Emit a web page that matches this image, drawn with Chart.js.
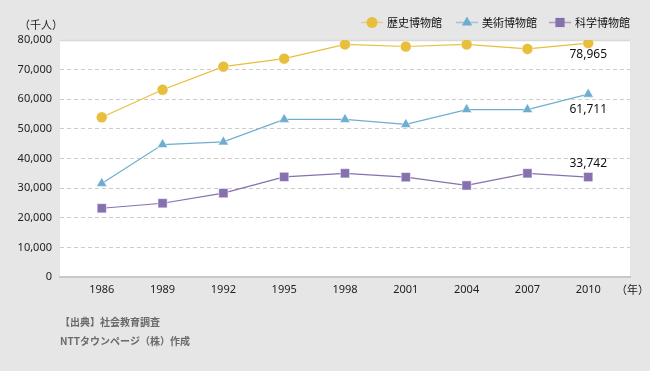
<!DOCTYPE html>
<html><head><meta charset="utf-8">
<script src="https://cdn.jsdelivr.net/npm/chart.js@4"></script>
<style>html,body{margin:0;padding:0;background:#e6e6e6;} canvas{display:block;}</style>
</head><body>
<canvas id="c" width="650" height="371"></canvas>
<script>
const years = [1986, 1989, 1992, 1995, 1998, 2001, 2004, 2007, 2010];
const historyVals = [53900, 63200, 71000, 73700, 78500, 77800, 78500, 77000, 78965];
const artVals = [31600, 44700, 45600, 53200, 53200, 51500, 56500, 56500, 61711];
const scienceVals = [23200, 24900, 28300, 33800, 35000, 33700, 30900, 35000, 33742];
const seriesNames = ['歴史博物館', '美術博物館', '科学博物館'];
const yTicks = [0, 10000, 20000, 30000, 40000, 50000, 60000, 70000, 80000];
const unitLabel = '（千人）';
const yearLabel = '（年）';
const notes = ['【出典】社会教育調査', 'NTTタウンページ（株）作成'];

const NUM_FONT = "'Noto Sans','Noto Sans CJK JP',sans-serif";
const JP_FONT = "'Noto Sans CJK JP','Noto Sans',sans-serif";
const colors = ['#E8BF3C', '#6DAED0', '#8670AE'];
const lightColors = ['rgba(232,191,60,0.6)', 'rgba(109,174,208,0.6)', 'rgba(134,112,174,0.6)'];
const styles = ['circle', 'triangle', 'rect'];
const radii = [5.5, 6, 6.5];

function pts(vals) { return years.map((y, i) => ({ x: y, y: vals[i] })); }
function fmt(v) { return Number(v).toLocaleString('en-US'); }

function drawMarker(ctx, style, x, y, r) {
  ctx.beginPath();
  if (style === 'circle') {
    ctx.arc(x, y, r, 0, Math.PI * 2);
  } else if (style === 'triangle') {
    let a = 0;
    ctx.moveTo(x + Math.sin(a) * r, y - Math.cos(a) * r);
    a += 2 * Math.PI / 3;
    ctx.lineTo(x + Math.sin(a) * r, y - Math.cos(a) * r);
    a += 2 * Math.PI / 3;
    ctx.lineTo(x + Math.sin(a) * r, y - Math.cos(a) * r);
    ctx.closePath();
  } else {
    const s = Math.SQRT1_2 * r;
    ctx.rect(x - s, y - s, 2 * s, 2 * s);
  }
  ctx.fill();
}

const bgPlugin = {
  id: 'bg',
  beforeDraw(chart) {
    const { ctx, chartArea: a } = chart;
    ctx.save();
    ctx.fillStyle = '#e6e6e6';
    ctx.fillRect(0, 0, chart.width, chart.height);
    ctx.fillStyle = '#ffffff';
    ctx.fillRect(a.left, a.top, a.right - a.left, a.bottom - a.top);
    ctx.strokeStyle = '#d8d8d8';
    ctx.lineWidth = 1.5;
    ctx.beginPath();
    ctx.moveTo(a.left, a.top + 0.5);
    ctx.lineTo(a.right, a.top + 0.5);
    ctx.stroke();
    ctx.restore();
  }
};

const textPlugin = {
  id: 'texts',
  afterDraw(chart) {
    const { ctx } = chart;
    ctx.save();
    // value labels at last points
    const offsets = [12, 15, -13];
    ctx.font = '12px ' + NUM_FONT;
    ctx.fillStyle = '#111';
    ctx.textAlign = 'center';
    ctx.textBaseline = 'middle';
    chart.data.datasets.forEach((ds, i) => {
      const meta = chart.getDatasetMeta(i);
      const p = meta.data[meta.data.length - 1];
      ctx.fillText(fmt(ds.data[ds.data.length - 1].y), p.x, p.y + offsets[i]);
    });
    // legend
    const legendX = [372, 467, 560];
    const ly = 22.5;
    ctx.font = '11px ' + JP_FONT;
    ctx.textAlign = 'left';
    seriesNames.forEach((name, i) => {
      const mx = legendX[i];
      ctx.strokeStyle = lightColors[i];
      ctx.lineWidth = 1.5;
      ctx.beginPath();
      ctx.moveTo(mx - 11, ly);
      ctx.lineTo(mx + 11, ly);
      ctx.stroke();
      ctx.fillStyle = colors[i];
      drawMarker(ctx, styles[i], mx, ly, radii[i]);
      ctx.fillStyle = '#111';
      ctx.fillText(name, mx + 15, ly);
    });
    // axis units
    ctx.fillStyle = '#222';
    ctx.font = '11px ' + JP_FONT;
    ctx.textAlign = 'left';
    ctx.fillText(unitLabel, 19, 25);
    ctx.fillText(yearLabel, 616, 290);
    // notes
    ctx.fillStyle = '#6a6a6a';
    ctx.font = 'bold 10px ' + JP_FONT;
    ctx.fillText(notes[0], 60, 322);
    ctx.fillText(notes[1], 60, 341);
    ctx.restore();
  }
};

new Chart(document.getElementById('c'), {
  type: 'line',
  data: {
    datasets: [historyVals, artVals, scienceVals].map((vals, i) => ({
      label: seriesNames[i],
      data: pts(vals),
      borderColor: colors[i],
      backgroundColor: colors[i],
      borderWidth: 1.2,
      pointStyle: styles[i],
      pointRadius: radii[i],
      pointBackgroundColor: colors[i],
      pointBorderColor: 'rgba(255,255,255,0.5)',
      pointBorderWidth: 1,
      tension: 0,
      fill: false
    }))
  },
  options: {
    responsive: false,
    animation: false,
    devicePixelRatio: 1,
    layout: { padding: { top: 40, right: 20, left: 0, bottom: 0 } },
    plugins: { legend: { display: false }, tooltip: { enabled: false } },
    scales: {
      x: {
        type: 'linear',
        min: 1983.94,
        max: 2012.06,
        afterBuildTicks: s => { s.ticks = years.map(v => ({ value: v })); },
        afterFit: s => { s.height = 94; },
        grid: { display: false, drawTicks: false },
        border: { display: true, color: '#c8c8c8', width: 2 },
        ticks: { font: { family: NUM_FONT, size: 11 }, color: '#222', padding: 6, autoSkip: false, maxRotation: 0, callback: v => String(v) }
      },
      y: {
        min: 0,
        max: 80000,
        afterBuildTicks: s => { s.ticks = yTicks.map(v => ({ value: v })); },
        afterFit: s => { s.width = 60; },
        grid: {
          drawTicks: false,
          lineWidth: 1,
          color: c => (c.tick && (c.tick.value === 0 || c.tick.value === 80000)) ? 'rgba(0,0,0,0)' : '#cccccc'
        },
        border: { display: false, dash: [4, 3] },
        ticks: { font: { family: NUM_FONT, size: 11 }, color: '#222', padding: 8, callback: v => fmt(v) }
      }
    }
  },
  plugins: [bgPlugin, textPlugin]
});
</script>
</body></html>
